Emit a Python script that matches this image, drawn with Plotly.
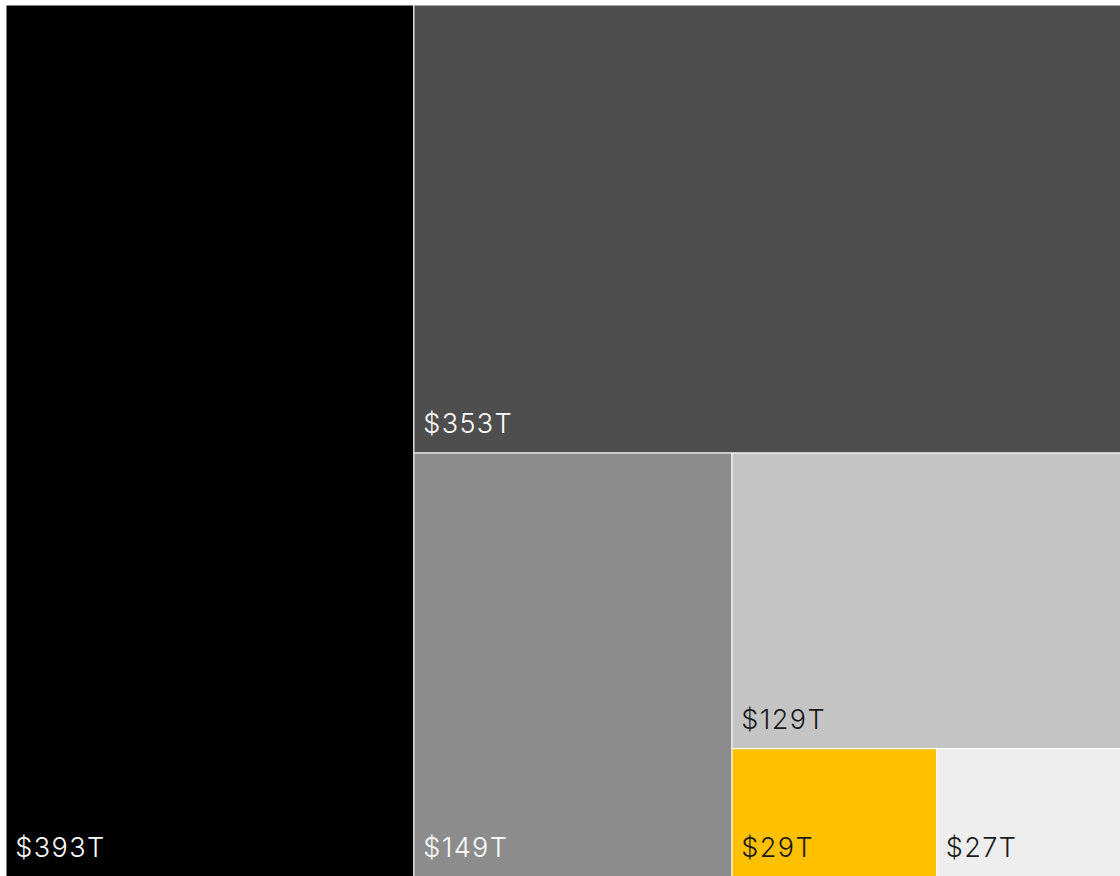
import plotly.graph_objects as go

labels = ["A", "B", "C", "D", "E", "F"]
values = [393, 353, 149, 129, 29, 27]
colors = ["#000000", "#4e4e4e", "#8c8c8c", "#c4c4c4", "#ffc000", "#eeeeee"]
text_colors = ["#ffffff", "#ffffff", "#ffffff", "#1a1a1a", "#1a1a1a", "#1a1a1a"]

label_style = "font-size:27px;letter-spacing:1.4px"

fig = go.Figure(go.Treemap(
    labels=labels,
    parents=[""] * len(labels),
    values=values,
    sort=True,
    texttemplate=f"<span style='{label_style}'>\u2009$%{{value}}T</span><br>\u00a0",
    textposition="bottom left",
    textfont=dict(family="Inter", size=10.5, color=text_colors, weight=300),
    marker=dict(colors=colors, line=dict(color="#ffffff", width=1), pad=dict(t=0, l=0, r=0, b=0)),
    tiling=dict(packing="binary", pad=0),
    pathbar=dict(visible=False),
    hoverinfo="skip",
))

fig.update_layout(
    width=1127, height=877,
    margin=dict(l=6, r=0, t=5, b=0),
    paper_bgcolor="#ffffff",
    showlegend=False,
)

fig.write_html("out.html", config={"displayModeBar": False},
               post_script="document.body.style.margin='0px';")
